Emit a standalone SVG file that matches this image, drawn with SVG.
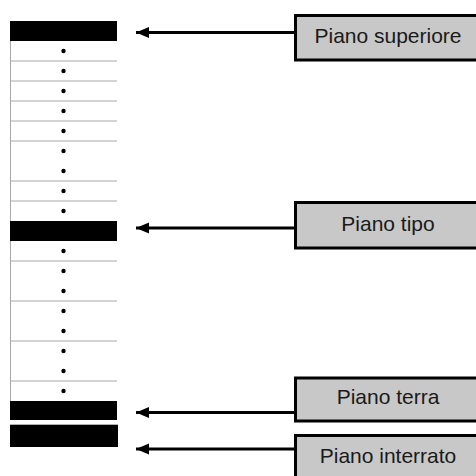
<svg xmlns="http://www.w3.org/2000/svg" width="476" height="476" viewBox="0 0 476 476">
  <defs>
    <style>
      .slab { fill: #000; }
      .floor { stroke: #a8a8a8; stroke-width: 1; fill: none; }
      .dot { fill: #000; }
      .box { fill: #c8c8c8; stroke: #000; stroke-width: 3; }
      .label { font-family: "Liberation Sans", Arial, sans-serif; font-size: 21px; fill: #1a1a1a; text-anchor: middle; }
      .conn { stroke: #000; stroke-width: 3; fill: none; marker-start: url(#arrow); }
    </style>
    <marker id="arrow" markerUnits="userSpaceOnUse" markerWidth="14" markerHeight="12" refX="0" refY="6" orient="auto">
      <path d="M0,6 L13,0.5 L13,11.5 Z" fill="#000"/>
    </marker>
  </defs>
  <rect width="476" height="476" fill="#fff"/>

  <g id="building">
    <line class="floor" x1="10.5" y1="41" x2="10.5" y2="401"/>
    <g id="floor-lines">
      <line class="floor" x1="10" y1="61" x2="117" y2="61"/>
      <line class="floor" x1="10" y1="81" x2="117" y2="81"/>
      <line class="floor" x1="10" y1="101" x2="117" y2="101"/>
      <line class="floor" x1="10" y1="121" x2="117" y2="121"/>
      <line class="floor" x1="10" y1="141" x2="117" y2="141"/>
      <line class="floor" x1="10" y1="181" x2="117" y2="181"/>
      <line class="floor" x1="10" y1="201" x2="117" y2="201"/>
      <line class="floor" x1="10" y1="261" x2="117" y2="261"/>
      <line class="floor" x1="10" y1="301" x2="117" y2="301"/>
      <line class="floor" x1="10" y1="341" x2="117" y2="341"/>
      <line class="floor" x1="10" y1="381" x2="117" y2="381"/>
    </g>
    <g id="dots">
      <circle class="dot" cx="63.5" cy="51" r="2.2"/>
      <circle class="dot" cx="63.5" cy="71" r="2.2"/>
      <circle class="dot" cx="63.5" cy="91" r="2.2"/>
      <circle class="dot" cx="63.5" cy="111" r="2.2"/>
      <circle class="dot" cx="63.5" cy="131" r="2.2"/>
      <circle class="dot" cx="63.5" cy="151" r="2.2"/>
      <circle class="dot" cx="63.5" cy="171" r="2.2"/>
      <circle class="dot" cx="63.5" cy="191" r="2.2"/>
      <circle class="dot" cx="63.5" cy="211" r="2.2"/>
      <circle class="dot" cx="63.5" cy="251" r="2.2"/>
      <circle class="dot" cx="63.5" cy="271" r="2.2"/>
      <circle class="dot" cx="63.5" cy="291" r="2.2"/>
      <circle class="dot" cx="63.5" cy="311" r="2.2"/>
      <circle class="dot" cx="63.5" cy="331" r="2.2"/>
      <circle class="dot" cx="63.5" cy="351" r="2.2"/>
      <circle class="dot" cx="63.5" cy="371" r="2.2"/>
      <circle class="dot" cx="63.5" cy="391" r="2.2"/>
    </g>
    <rect id="slab-top" class="slab" x="10" y="21" width="107" height="20"/>
    <rect id="slab-typical" class="slab" x="10" y="221" width="107" height="20"/>
    <rect id="slab-ground" class="slab" x="10" y="401" width="107" height="19"/>
    <rect x="10.5" y="424.5" width="107" height="22" fill="none" stroke="#b0b0b0" stroke-width="1"/>
    <rect id="slab-basement" class="slab" x="10" y="425" width="108" height="22"/>
  </g>

  <g id="connectors">
    <line class="conn" x1="136" y1="32.5" x2="295" y2="32.5"/>
    <line class="conn" x1="136" y1="228" x2="295" y2="228"/>
    <line class="conn" x1="136" y1="412.5" x2="295" y2="412.5"/>
    <line class="conn" x1="136" y1="449" x2="295" y2="449"/>
  </g>

  <g id="node-superiore">
    <rect class="box" x="295.5" y="15.5" width="192" height="44.5"/>
    <text class="label" x="388" y="43">Piano superiore</text>
  </g>
  <g id="node-tipo">
    <rect class="box" x="295.5" y="202.5" width="192" height="45.5"/>
    <text class="label" x="388" y="231">Piano tipo</text>
  </g>
  <g id="node-terra">
    <rect class="box" x="295.5" y="378" width="192" height="43"/>
    <text class="label" x="388" y="404">Piano terra</text>
  </g>
  <g id="node-interrato">
    <rect class="box" x="295.5" y="435.5" width="192" height="60"/>
    <text class="label" x="388" y="463">Piano interrato</text>
  </g>
</svg>
